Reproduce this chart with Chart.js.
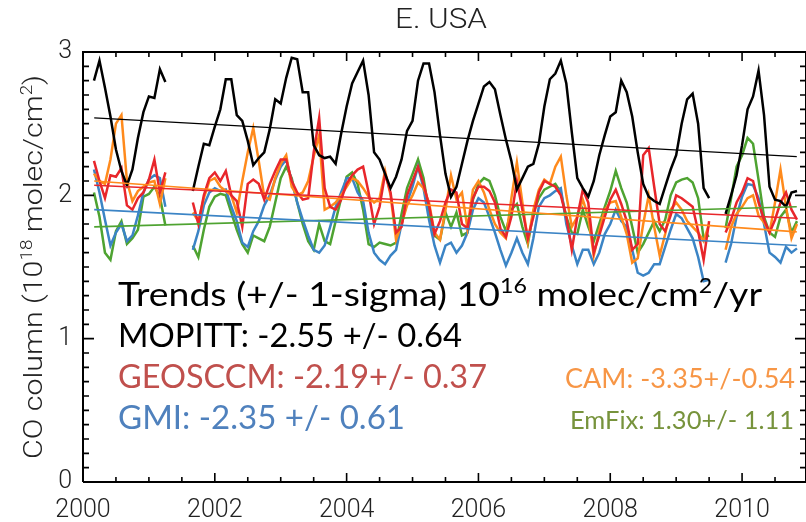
<!DOCTYPE html>
<html>
<head>
<meta charset="utf-8">
<script src="https://cdn.jsdelivr.net/npm/chart.js@4.4.1/dist/chart.umd.min.js"></script>
<style>
  html, body { margin: 0; padding: 0; background: #fff; }
  canvas { display: block; }
</style>
</head>
<body>
<canvas id="co-chart" width="806" height="522"></canvas>
<script>
// monthly CO columns (10^18 molec/cm2), first value = Mar 2000, last = Nov 2010
// null where MOPITT has no data (models are sampled the same way)
const firstYear = 2000, firstMonth = 3;

const mopitt = [
  2.80, 2.94, 2.75, 2.55, 2.32, 2.17, 2.07, 2.18, 2.40, 2.58,             // 2000
  2.69, 2.68, 2.88, 2.79, null, null, null, null, 2.03, 2.20, 2.36, 2.35, // 2001
  2.48, 2.60, 2.81, 2.81, 2.56, 2.52, 2.38, 2.21, 2.26, 2.30, 2.46, 2.67, // 2002
  2.64, 2.82, 2.96, 2.95, 2.72, 2.72, 2.35, 2.28, 2.26, 2.27, 2.22, 2.43, // 2003
  2.62, 2.78, 2.86, 2.94, 2.70, 2.30, 2.25, 2.15, 2.05, 2.13, 2.25, 2.45, // 2004
  2.52, 2.80, 2.92, 2.92, 2.72, 2.42, 2.15, 1.99, 2.06, 2.22, 2.38, 2.52, // 2005
  2.64, 2.76, 2.79, 2.74, 2.56, 2.39, 2.24, 2.04, 2.12, 2.20, 2.22, 2.36, // 2006
  2.62, 2.81, 2.85, 2.94, 2.78, 2.44, 2.12, 2.05, 1.99, 2.10, 2.28, 2.42, // 2007
  2.55, 2.58, 2.80, 2.72, 2.55, 2.30, 2.08, 1.99, 1.96, 1.94, 2.06, 2.18, // 2008
  2.28, 2.50, 2.67, 2.71, 2.50, 2.05, 1.98, null, null, 1.87, 2.00, 2.14, // 2009
  2.35, 2.60, 2.69, 2.87, 2.56, 2.06, 1.97, 1.96, 1.92, 2.02, 2.03        // 2010
];
const geosccm = [
  2.24, 2.10, 1.98, 2.14, 2.13, 2.19, 1.93, 1.90, 1.98, 2.02,
  2.11, 2.25, 2.02, 2.16, null, null, null, null, 1.95, 1.80, 2.00, 2.12,
  2.16, 2.10, 2.17, 2.00, 1.96, 1.78, 2.08, 2.11, 2.08, 1.97, 2.08, 2.17,
  2.25, 2.25, 2.10, 2.02, 1.97, 1.98, 2.30, 2.54, 2.05, 1.92, 1.90, 1.97,
  2.08, 2.14, 2.18, 2.20, 2.02, 1.80, 1.92, 2.15, 2.02, 1.74, 1.78, 2.00,
  2.10, 2.20, 2.08, 1.93, 1.73, 1.82, 1.95, 2.04, 2.02, 1.80, 1.77, 1.98,
  2.06, 2.06, 2.03, 1.95, 1.77, 1.71, 1.85, 2.10, 1.90, 1.70, 1.85, 2.02,
  2.10, 2.08, 2.06, 2.00, 1.85, 1.62, 1.85, 2.04, 1.95, 1.60, 1.72, 1.85,
  1.97, 2.04, 1.94, 1.82, 1.62, 1.66, 2.28, 2.33, 2.06, 1.80, 1.75, 1.86,
  2.00, 1.98, 1.95, 1.92, 1.75, 1.55, 1.82, null, null, 1.74, 1.83, 1.95,
  2.02, 2.12, 2.10, 1.95, 1.83, 1.74, 1.83, 1.95, 2.02, 1.90, 1.83
];
const cam = [
  2.15, 2.10, 2.08, 2.25, 2.50, 2.56, 2.10, 1.96, 2.03, 2.06,
  2.09, 2.10, 1.94, 2.12, null, null, null, null, 1.88, 1.82, 1.98, 2.10,
  2.12, 2.06, 2.03, 2.00, 1.88, 2.10, 2.30, 2.47, 2.24, 1.99, 1.97, 2.12,
  2.22, 2.28, 2.06, 2.00, 2.02, 2.10, 2.27, 2.42, 1.90, 1.92, 1.95, 2.00,
  2.06, 2.12, 2.10, 2.05, 1.99, 1.95, 1.98, 2.17, 2.00, 1.69, 1.80, 1.93,
  2.00, 2.09, 2.05, 1.95, 1.74, 1.69, 1.90, 2.14, 1.97, 2.02, 1.77, 2.04,
  2.10, 2.02, 1.90, 1.80, 1.74, 1.70, 1.98, 2.23, 1.95, 1.68, 1.90, 2.04,
  2.11, 2.08, 2.20, 2.27, 2.00, 1.78, 1.85, 1.97, 1.85, 1.58, 1.75, 1.90,
  1.95, 1.96, 1.85, 1.73, 1.53, 1.56, 1.80, 2.00, 1.78, 1.58, 1.73, 1.90,
  1.95, 1.90, 1.82, 1.78, 1.74, 1.68, 1.80, null, null, 1.62, 1.78, 1.87,
  1.92, 1.98, 2.00, 1.86, 1.81, 1.74, 1.95, 2.18, 1.92, 1.70, 1.80
];
const gmi = [
  2.18, 2.02, 1.83, 1.65, 1.74, 1.80, 1.68, 1.72, 1.86, 2.02,
  2.11, 2.14, 2.12, 1.92, null, null, null, null, 1.62, 1.75, 1.93, 2.02,
  2.05, 2.03, 2.04, 1.92, 1.82, 1.67, 1.64, 1.75, 1.82, 1.93, 2.00, 2.11,
  2.20, 2.25, 2.10, 1.95, 1.83, 1.72, 1.62, 1.60, 1.65, 1.78, 1.92, 2.02,
  2.12, 2.12, 2.02, 1.96, 1.74, 1.60, 1.55, 1.52, 1.58, 1.62, 1.80, 1.95,
  2.06, 2.20, 2.05, 1.83, 1.65, 1.53, 1.65, 1.67, 1.60, 1.65, 1.74, 1.90,
  1.98, 1.95, 1.85, 1.74, 1.62, 1.51, 1.60, 1.70, 1.60, 1.52, 1.70, 1.92,
  1.98, 2.00, 2.03, 2.05, 1.80, 1.65, 1.52, 1.62, 1.62, 1.52, 1.60, 1.73,
  1.80, 1.90, 1.82, 1.78, 1.62, 1.46, 1.44, 1.46, 1.52, 1.52, 1.64, 1.76,
  1.87, 1.84, 1.77, 1.70, 1.57, 1.40, 1.41, null, null, 1.53, 1.66, 1.85,
  1.99, 2.08, 2.07, 1.98, 1.80, 1.60, 1.57, 1.53, 1.64, 1.60, 1.63
];
const emfix = [
  2.02, 1.85, 1.60, 1.55, 1.75, 1.82, 1.66, 1.70, 1.76, 1.99,
  2.01, 2.06, 1.99, 1.79, null, null, null, null, 1.65, 1.57, 1.76, 1.92,
  1.99, 2.01, 2.00, 1.88, 1.76, 1.66, 1.60, 1.72, 1.70, 1.68, 1.78, 1.95,
  2.12, 2.20, 2.12, 1.95, 1.80, 1.68, 1.62, 1.80, 1.68, 1.66, 1.82, 1.98,
  2.13, 2.16, 2.08, 1.90, 1.66, 1.64, 1.67, 1.66, 1.65, 1.67, 1.87, 2.05,
  2.15, 2.25, 2.12, 1.88, 1.72, 1.69, 1.88, 1.78, 1.88, 1.72, 1.74, 1.97,
  2.08, 2.12, 2.10, 2.00, 1.85, 1.75, 1.90, 1.94, 1.78, 1.66, 1.88, 1.98,
  2.04, 2.06, 2.08, 2.02, 1.85, 1.74, 1.73, 1.90, 1.78, 1.68, 1.80, 1.92,
  2.03, 2.17, 2.05, 1.95, 1.78, 1.60, 1.66, 1.74, 1.82, 1.75, 1.83, 2.00,
  2.09, 2.11, 2.12, 2.09, 1.98, 1.70, 1.72, null, null, 1.77, 1.98, 2.20,
  2.28, 2.40, 2.36, 2.11, 1.85, 1.74, 1.71, 1.85, 1.90, 1.74, 1.82
];

const seriesNames  = ['MOPITT', 'GEOSCCM', 'CAM', 'GMI', 'EmFix'];
const seriesValues = [mopitt, geosccm, cam, gmi, emfix];
const lineColors   = ['#000000', '#e8262b', '#ff8a1c', '#3b84c5', '#4ea331'];
const textColors   = ['#000000', '#c0504d', '#f79646', '#4f81bd', '#77933c'];

// linear trends, start and end of the record
const trendYears = [2000.17, 2010.83];
const trendStart = [2.54, 2.07, 2.10, 1.90, 1.78];
const trendEnd   = [2.27, 1.84, 1.745, 1.65, 1.92];
const trendText  = ['-2.55 +/- 0.64', '-2.19+/- 0.37', '-3.35+/-0.54', '-2.35 +/- 0.61', '1.30+/- 1.11'];

const xTicks = [2000, 2002, 2004, 2006, 2008, 2010];
const yTicks = [0, 1, 2, 3];
const xMin = 2000, xMax = 2010.97, yMin = 0, yMax = 3;
const xMinorStep = 0.5, yMinorStep = 0.1;

// plot box in pixels: left 83, right 806, top 52, bottom 482
const pxPerYear = (806 - 83) / (xMax - xMin);
const pxPerUnit = (482 - 52) / (yMax - yMin);

const axisFont = 'Roboto';
const noteFont = 'Lato';

function toPoints(vals) {
  return vals.map((v, i) => ({ x: firstYear + (firstMonth - 1 + i) / 12, y: v }));
}

// IDL style box with inward ticks, as one broken line through the scales
function boxPoints() {
  return [{ x: xMin, y: yMin }, { x: xMax, y: yMin }, { x: xMax, y: yMax }, { x: xMin, y: yMax }, { x: xMin, y: yMin }];
}
function tickPoints() {
  const pts = [];
  for (let k = 0; xMin + k * xMinorStep <= xMax + 1e-6; k++) {
    const x = xMin + k * xMinorStep;
    const ly = (xTicks.includes(x) ? 9 : 5) / pxPerUnit;
    pts.push({ x: x, y: yMin }, { x: x, y: yMin + ly }, { x: x, y: null });
    pts.push({ x: x, y: yMax }, { x: x, y: yMax - ly }, { x: x, y: null });
  }
  for (let k = 0; yMin + k * yMinorStep <= yMax + 1e-6; k++) {
    const y = +(yMin + k * yMinorStep).toFixed(2);
    const lx = (yTicks.includes(y) ? 11 : 6) / pxPerYear;
    pts.push({ x: xMin, y: y }, { x: xMin + lx, y: y }, { x: xMin, y: null });
    pts.push({ x: xMax, y: y }, { x: xMax - lx, y: y }, { x: xMax, y: null });
  }
  return pts;
}

const datasets = [];
seriesNames.forEach((name, i) => {
  datasets.push({
    label: name,
    data: toPoints(seriesValues[i]),
    borderColor: lineColors[i],
    borderWidth: 2.5,
    order: i == 0 ? 2 : 3 + i,
    spanGaps: false
  });
  datasets.push({
    label: name + ' trend',
    data: trendYears.map((x, k) => ({ x: x, y: k == 0 ? trendStart[i] : trendEnd[i] })),
    borderColor: lineColors[i],
    borderWidth: i == 0 ? 1.3 : 1.6,
    order: 1
  });
});
datasets.push({ label: 'box', data: boxPoints(), borderColor: '#000', borderWidth: 2, order: 0, clip: 2 });
datasets.push({ label: 'ticks', data: tickPoints(), borderColor: '#000', borderWidth: 1.6, order: 0, spanGaps: false, clip: 2 });

function fontOf(weight, size, family) {
  return weight + ' ' + size.toFixed(1) + 'px ' + family;
}

// width of text pieces, some of them superscripts
function runsWidth(ctx, runs, size, weight, family) {
  let w = 0;
  runs.forEach(([t, sup]) => {
    ctx.font = fontOf(weight, sup ? size * 0.62 : size, family);
    w += ctx.measureText(t).width;
  });
  return w;
}

// draw pieces from x on baseline y; squeeze (or scale evenly) to the given width
function drawRuns(ctx, runs, x, y, size, weight, family, width, even) {
  const natural = runsWidth(ctx, runs, size, weight, family);
  const sx = (width && natural > 0) ? width / natural : 1;
  ctx.save();
  ctx.translate(x, y);
  ctx.scale(sx, even ? sx : 1);
  ctx.textAlign = 'left';
  ctx.textBaseline = 'alphabetic';
  let cx = 0;
  runs.forEach(([t, sup]) => {
    ctx.font = fontOf(weight, sup ? size * 0.62 : size, family);
    ctx.fillText(t, cx, sup ? -size * 0.38 : 0);
    cx += ctx.measureText(t).width;
  });
  ctx.restore();
}

const textPlugin = {
  id: 'notes',
  afterDraw(chart) {
    const c = chart.ctx;
    const a = chart.chartArea;
    c.save();
    // title
    c.fillStyle = '#222';
    drawRuns(c, [['E. USA', false]], 395, 28, 28, '300', axisFont, 92);

    // y axis title, rotated
    const yRuns = [['CO column (10', false], ['18', true], [' molec/cm', false], ['2', true], [')', false]];
    c.save();
    c.translate(33, (a.top + a.bottom) / 2);
    c.rotate(-Math.PI / 2);
    drawRuns(c, yRuns, -192, 9, 26, '300', axisFont, 384);
    c.restore();

    // trend notes
    const sz = 33;
    c.fillStyle = textColors[0];
    drawRuns(c, [['Trends (+/- 1-sigma) 10', false], ['16', true], [' molec/cm', false], ['2', true], ['/yr', false]], 118, 306, sz, '400', noteFont, 644);
    drawRuns(c, [['MOPITT: ' + trendText[0], false]], 118, 347, sz, '400', noteFont, 344);
    c.fillStyle = textColors[1];
    drawRuns(c, [['GEOSCCM: ' + trendText[1], false]], 118, 388, sz, '400', noteFont, 369);
    c.fillStyle = textColors[2];
    drawRuns(c, [['CAM: ' + trendText[2], false]], 565, 388, sz, '400', noteFont, 230, true);
    c.fillStyle = textColors[3];
    drawRuns(c, [['GMI: ' + trendText[3], false]], 118, 429, sz, '400', noteFont, 287);
    c.fillStyle = textColors[4];
    drawRuns(c, [['EmFix: ' + trendText[4], false]], 570, 429, sz, '400', noteFont, 224, true);
    c.restore();
  }
};

const tickFont = { family: axisFont, size: 25, weight: '300' };

const ctx = document.getElementById('co-chart').getContext('2d');
const coChart = new Chart(ctx, {
  type: 'line',
  data: { datasets: datasets },
  options: {
    responsive: false,
    animation: false,
    layout: { padding: { top: 52, right: 0, left: 0, bottom: 0 } },
    elements: {
      point: { radius: 0 },
      line: { tension: 0 }
    },
    plugins: { legend: { display: false }, tooltip: { enabled: false } },
    scales: {
      x: {
        type: 'linear',
        min: xMin,
        max: xMax,
        afterFit(s) { s.height = 40; },
        afterBuildTicks(s) { s.ticks = xTicks.map(v => ({ value: v })); },
        grid: { display: false, drawTicks: false },
        border: { display: false },
        ticks: { color: '#222', font: tickFont, padding: 14, maxRotation: 0, autoSkip: false, callback: v => String(v) }
      },
      y: {
        min: yMin,
        max: yMax,
        afterFit(s) { s.width = 83; },
        afterBuildTicks(s) { s.ticks = yTicks.map(v => ({ value: v })); },
        grid: { display: false, drawTicks: false },
        border: { display: false },
        ticks: { color: '#222', font: tickFont, padding: 11, callback: v => String(v) }
      }
    }
  },
  plugins: [textPlugin]
});
</script>
</body>
</html>
